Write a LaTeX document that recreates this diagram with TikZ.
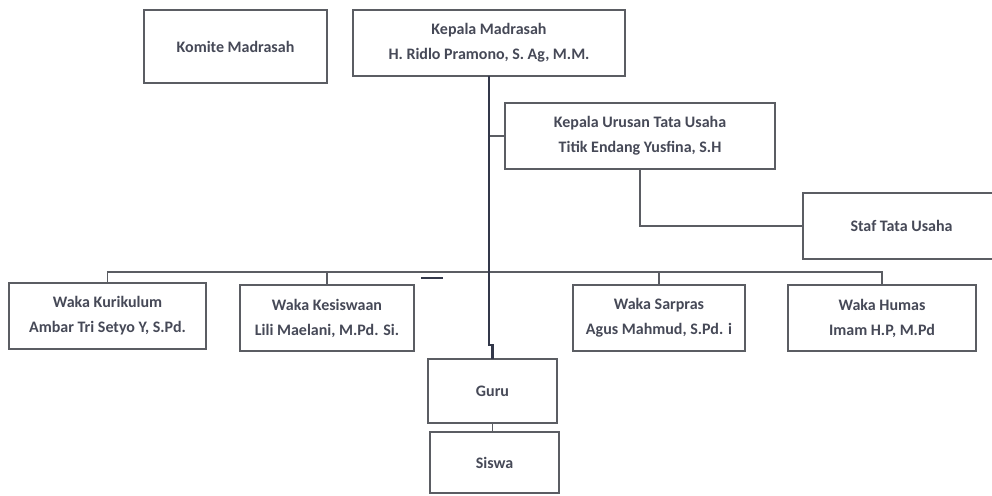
\documentclass[tikz,border=0pt]{standalone}
\usepackage{fontspec}
\setmainfont{Carlito}
\usepackage{tikz}

\definecolor{boxline}{HTML}{5B5D63}
\definecolor{trunkline}{HTML}{33384A}
\definecolor{textgray}{HTML}{464957}

\begin{document}
\begin{tikzpicture}[x=1pt,y=-1pt,
    box/.style={draw=boxline,line width=1.8pt,fill=white,align=center,
      inner sep=0pt,outer sep=0pt,text=textgray,
      font=\bfseries\fontsize{16}{25}\selectfont},
    link/.style={draw=boxline,line width=1.6pt},
    trunk/.style={draw=trunkline,line width=2.6pt}]
    \useasboundingbox (0,0) rectangle (992,495);
    % top row
    \node[box,minimum width=183,minimum height=73] (komite) at (235.5,46.5) {Komite Madrasah};
    \node[box,minimum width=272,minimum height=66] (kepala) at (489,43)
      {Kepala Madrasah\\H. Ridlo Pramono, S. Ag, M.M.};
    % tata usaha
    \node[box,minimum width=270,minimum height=66] (kutu) at (640,136)
      {Kepala Urusan Tata Usaha\\Titik Endang Yusfina, S.H};
    \node[box,minimum width=197,minimum height=66] (staf) at (901.5,226) {Staf Tata Usaha};
    % waka row
    \node[box,minimum width=197,minimum height=66] (kurikulum) at (107.5,316)
      {Waka Kurikulum\\Ambar Tri Setyo Y, S.Pd.};
    \node[box,minimum width=174,minimum height=66] (kesiswaan) at (327,318)
      {Waka Kesiswaan\\Lili Maelani, M.Pd. Si.};
    \node[box,minimum width=172,minimum height=66] (sarpras) at (659,318)
      {Waka Sarpras\\Agus Mahmud, S.Pd. i};
    \node[box,minimum width=188,minimum height=66] (humas) at (882,318)
      {Waka Humas\\Imam H.P, M.Pd};
    % bottom
    \node[box,minimum width=129,minimum height=64] (guru) at (492.5,391) {Guru};
    \node[box,minimum width=129,minimum height=61] (siswa) at (494.5,462.5) {Siswa};
    \coordinate (bus) at (489,272);
    \coordinate (jog) at (489,345);
    % connectors
    \draw[link] (kurikulum.north) |- (bus) -| (humas.north);
    \draw[link] (kesiswaan.north) -- (kesiswaan.north |- bus);
    \draw[link] (sarpras.north) -- (sarpras.north |- bus);
    \draw[link] (kutu.west) -- (kutu.west -| kepala.south);
    \draw[link] (kutu.south) |- (staf.west);
    \draw[link] (guru.south) -- (guru.south |- siswa.north);
    \draw[trunk] (kepala.south) -- (jog) -| (guru.north);
    \draw[trunk,line width=2pt] (421,278) -- (443,278);
\end{tikzpicture}
\end{document}
